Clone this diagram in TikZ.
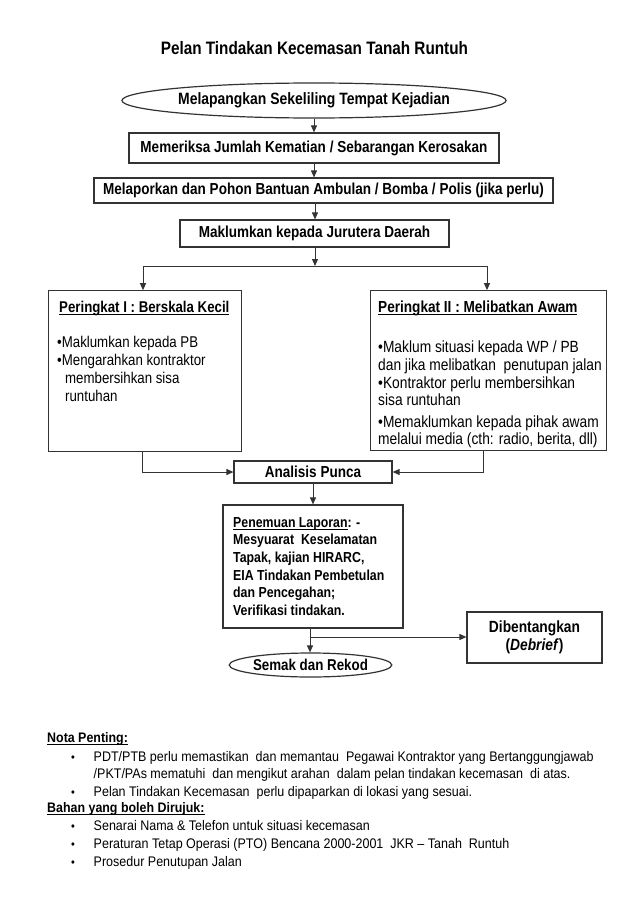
\documentclass[tikz,border=0pt]{standalone}
\usepackage{fontspec}
\setmainfont{Liberation Sans}[FakeStretch=0.9]
\newfontfamily\dgf{Liberation Sans}[FakeStretch=0.85]
\usetikzlibrary{arrows.meta,shapes.geometric}
\newcommand\myul[1]{\setbox0\hbox{#1}\rlap{\rule[-2.4pt]{\wd0}{0.9pt}}\box0}
\newcommand\fs[1]{\fontsize{#1}{#1}\selectfont}
\begin{document}
\begin{tikzpicture}[x=1pt,y=-1pt,
  line/.style={draw=black!80, line width=1pt},
  arr/.style={line, -{Triangle[length=7pt,width=6pt]}},
  box/.style={draw=black!80, line width=1.2pt, inner sep=0pt, fill=white},
  ell/.style={box, ellipse},
  bt/.style={font=\dgf\fs{15.9}\bfseries},
  lt/.style={anchor=base west, inner sep=0pt},
  lft/.style={lt, font=\dgf\fs{15.6}},
  rgt/.style={lt, font=\dgf\fs{16.2}},
  pen/.style={lt, font=\dgf\fs{14.5}\bfseries},
  nt/.style={lt, font=\fs{13.9}},
  nh/.style={lt, font=\fs{13.8}\bfseries},
  dot/.style={anchor=base, inner sep=0pt, font=\fs{12}}]
\useasboundingbox (0,0) rectangle (641,899);
\fill[white] (0,0) rectangle (641,899);

\node[anchor=base, inner sep=0pt, font=\dgf\fs{18}\bfseries] (title) at (314.4,55) {Pelan Tindakan Kecemasan Tanah Runtuh};

\node[ell, minimum width=328pt, minimum height=35pt, font=\dgf\fs{16.4}\bfseries] (e1) at (314,100.5) {Melapangkan Sekeliling Tempat Kejadian};
\node[box, minimum width=370pt, minimum height=30pt, bt] (b1) at (314,148) {Memeriksa Jumlah Kematian / Sebarangan Kerosakan};
\node[box, minimum width=459pt, minimum height=25pt, bt] (b2) at (323.5,190.5) {Melaporkan dan Pohon Bantuan Ambulan / Bomba / Polis (jika perlu)};
\node[box, minimum width=269pt, minimum height=27pt, bt] (b3) at (314.5,233.5) {Maklumkan kepada Jurutera Daerah};

\node[box, minimum width=193pt, minimum height=161pt] (lb) at (145.3,371.3) {};
\node[box, minimum width=236pt, minimum height=160pt] (rb) at (488.7,370.7) {};

\node[lt, font=\dgf\fs{15.6}\bfseries] (lh) at (59,312) {\myul{Peringkat I : Berskala Kecil}};
\node[lft] (l1) at (57,347) {•Maklumkan kepada PB};
\node[lft] (l2) at (57,365) {•Mengarahkan kontraktor};
\node[lft] (l3) at (65,383) {membersihkan sisa};
\node[lft] (l4) at (65,401) {runtuhan};

\node[lt, font=\dgf\fs{16}\bfseries] (rh) at (378,312) {\myul{Peringkat II : Melibatkan Awam}};
\node[rgt] (r1) at (378,352) {•Maklum situasi kepada WP / PB};
\node[rgt] (r2) at (378,370) {dan jika melibatkan\ \ penutupan jalan};
\node[rgt] (r3) at (378,388) {•Kontraktor perlu membersihkan};
\node[rgt] (r4) at (378,405) {sisa runtuhan};
\node[rgt] (r5) at (378,427) {•Memaklumkan kepada pihak awam};
\node[rgt] (r6) at (378,444) {melalui media (cth: radio, berita, dll)};

\node[box, minimum width=158pt, minimum height=22pt, bt] (ap) at (313,472) {Analisis Punca};

\node[box, minimum width=180pt, minimum height=123pt] (pl) at (313,566.5) {};
\node[pen] (p1) at (233,527) {\myul{Penemuan Laporan}: -};
\node[pen] (p2) at (233,544) {Mesyuarat\ \ Keselamatan};
\node[pen] (p3) at (233,562) {Tapak, kajian HIRARC,};
\node[pen] (p4) at (233,580) {EIA Tindakan Pembetulan};
\node[pen] (p5) at (233,597) {dan Pencegahan;};
\node[pen] (p6) at (233,615) {Verifikasi tindakan.};

\node[ell, minimum width=153pt, minimum height=24pt, font=\dgf\fs{15.7}\bfseries] (sr) at (310.5,665) {Semak dan Rekod};
\node[box, minimum width=135pt, minimum height=51pt, align=center, font=\dgf\fontsize{16.2}{18}\selectfont\bfseries] (db) at (534.5,637.5) {Dibentangkan\\(\textit{Debrief})};

% connectors
\draw[arr] (e1.south) -- (b1.north);
\draw[arr] (b1.south) -- (b1.south |- b2.north);
\coordinate (c23) at (315,0);
\draw[arr] (c23 |- b2.south) -- (c23 |- b3.north);
\coordinate (jc) at (315,266);
\coordinate (jl) at (143,266);
\coordinate (jr) at (487,266);
\draw[arr] (c23 |- b3.south) -- (jc);
\draw[line] (jl) -- (jr);
\draw[arr] (jl) -- (jl |- lb.north);
\draw[arr] (jr) -- (jr |- rb.north);
\coordinate (al) at (142,472);
\coordinate (ar) at (483,472);
\draw[arr] (al |- lb.south) -- (al) -- (ap.west);
\draw[arr] (ar |- rb.south) -- (ar) -- (ap.east);
\draw[arr] (ap.south) -- (pl.north);
\coordinate (cs) at (310,637);
\draw[arr] (cs |- pl.south) -- (cs |- sr.north);
\draw[arr] (cs) -- (cs -| db.west);

% notes
\node[nh] (n0) at (47,742) {\myul{Nota Penting:}};
\node[dot] (d1) at (73,761) {•};
\node[nt] (t1) at (93.5,761) {PDT/PTB perlu memastikan\ \ dan memantau\ \ Pegawai Kontraktor yang Bertanggungjawab};
\node[nt] (t2) at (93.5,778.5) {/PKT/PAs mematuhi\ \ dan mengikut arahan\ \ dalam pelan tindakan kecemasan\ \ di atas.};
\node[dot] (d3) at (73,796) {•};
\node[nt] (t3) at (93.5,796) {Pelan Tindakan Kecemasan\ \ perlu dipaparkan di lokasi yang sesuai.};
\node[nh] (n1) at (47,812) {\myul{Bahan yang boleh Dirujuk:}};
\node[dot] (d4) at (73,830) {•};
\node[nt] (t4) at (93.5,830) {Senarai Nama \& Telefon untuk situasi kecemasan};
\node[dot] (d5) at (73,848) {•};
\node[nt] (t5) at (93.5,848) {Peraturan Tetap Operasi (PTO) Bencana 2000-2001\ \ JKR – Tanah\ \ Runtuh};
\node[dot] (d6) at (73,866) {•};
\node[nt] (t6) at (93.5,866) {Prosedur Penutupan Jalan};
\end{tikzpicture}
\end{document}
